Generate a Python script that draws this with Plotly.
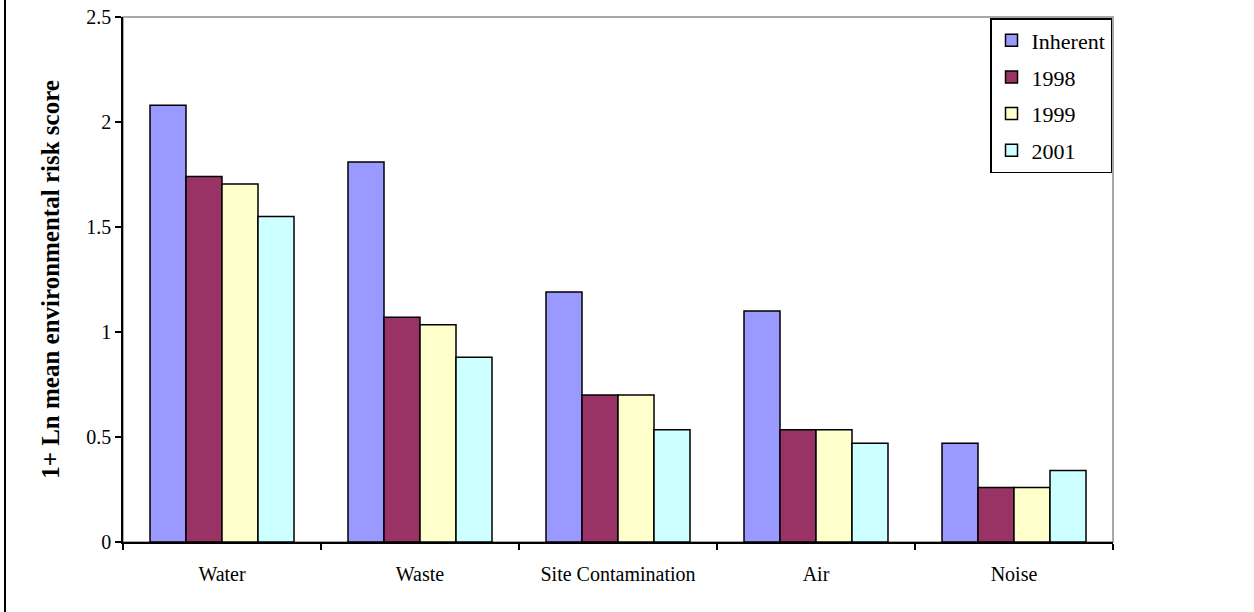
import plotly.graph_objects as go

categories = ["Water", "Waste", "Site Contamination", "Air", "Noise"]
series_names = ["Inherent", "1998", "1999", "2001"]
inherent = [2.08, 1.81, 1.19, 1.10, 0.47]
y1998 = [1.74, 1.07, 0.70, 0.535, 0.26]
y1999 = [1.705, 1.035, 0.70, 0.535, 0.26]
y2001 = [1.55, 0.88, 0.535, 0.47, 0.34]
colors = ["#9999FF", "#993366", "#FFFFCC", "#CCFFFF"]

fig = go.Figure()
for name, vals, col in zip(series_names, [inherent, y1998, y1999, y2001], colors):
    fig.add_trace(go.Bar(
        x=categories, y=vals, name=name, legendgroup=name,
        marker=dict(color=col, line=dict(color="black", width=1.5)),
    ))

font_family = "Liberation Serif"
fig.update_layout(
    width=1254, height=612,
    margin=dict(l=123, r=141, t=17, b=70),
    paper_bgcolor="white", plot_bgcolor="white",
    barmode="group", bargap=0.2727, bargroupgap=0,
    font=dict(family=font_family, size=20, color="black"),
    showlegend=True,
    legend=dict(
        x=0.999, y=0.998, xanchor="right", yanchor="top",
        bordercolor="black", borderwidth=1.5, bgcolor="white",
        font=dict(family=font_family, size=22, color="black"),
        tracegroupgap=5, itemwidth=30,
    ),
    xaxis=dict(
        showline=True, linecolor="black", linewidth=1.5,
        ticks="outside", ticklen=6, tickcolor="black", tickwidth=1.5,
        tickson="boundaries", showgrid=False, automargin=False,
        ticklabelstandoff=13,
        tickfont=dict(family=font_family, size=20),
    ),
    yaxis=dict(
        range=[0, 2.5], dtick=0.5, tick0=0,
        showline=True, linecolor="black", linewidth=1.5,
        ticks="outside", ticklen=6, tickcolor="black", tickwidth=1.5,
        showgrid=False, zeroline=False, automargin=False,
        tickfont=dict(family=font_family, size=20),
        title=dict(text="<b>1+ Ln mean environmental risk score</b>",
                   font=dict(family=font_family, size=25), standoff=20),
    ),
    shapes=[
        dict(type="rect", xref="paper", yref="paper", x0=0, x1=1, y0=0, y1=1,
             line=dict(color="#8c8c8c", width=1.5), layer="below"),
        dict(type="line", xref="paper", yref="paper",
             x0=(5 - 123) / 990, x1=(5 - 123) / 990, y0=-70 / 525, y1=1 + 17 / 525,
             line=dict(color="black", width=2)),
    ],
)

fig.write_html("out.html", config={"displayModeBar": False},
               post_script="document.body.style.margin='0';")
